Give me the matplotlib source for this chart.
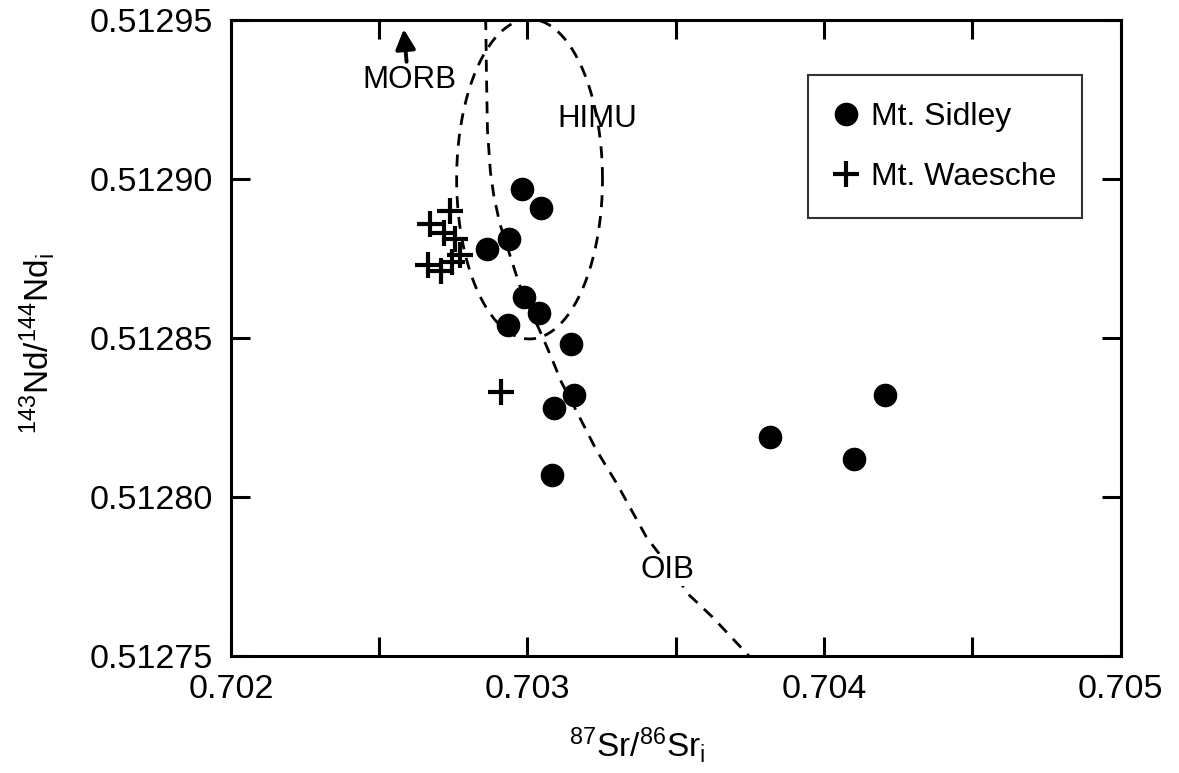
import numpy as np
from matplotlib import pyplot as plt

plt.rcParams["font.family"] = ["Liberation Sans", "DejaVu Sans"]
plt.rcParams["mathtext.fontset"] = "custom"
plt.rcParams["mathtext.rm"] = "Liberation Sans"
plt.rcParams["mathtext.it"] = "Liberation Sans"

# Mt. Sidley samples
sidley_sr = [0.702980, 0.703044, 0.702939, 0.702862, 0.702987, 0.703040, 0.702933,
             0.703148, 0.703158, 0.703088, 0.703081, 0.703818, 0.704101, 0.704205]
sidley_nd = [0.512897, 0.512891, 0.512881, 0.512878, 0.512863, 0.512858, 0.512854,
             0.512848, 0.512832, 0.512828, 0.512807, 0.512819, 0.512812, 0.512832]

# Mt. Waesche samples
waesche_sr = [0.702670, 0.702737, 0.702717, 0.702754, 0.702663, 0.702707, 0.702744,
              0.702771, 0.702912]
waesche_nd = [0.512886, 0.512890, 0.512883, 0.512881, 0.512873, 0.512871, 0.512874,
              0.512876, 0.512833]

# OIB field boundary
oib_sr = [0.702859, 0.702862, 0.702865, 0.702875, 0.702886, 0.702906, 0.702946,
          0.702973, 0.703013, 0.703051, 0.703084, 0.703114, 0.703175, 0.703232,
          0.703300, 0.703401, 0.703478, 0.703545, 0.703623, 0.703747]
oib_nd = [0.5129506, 0.5129311, 0.5129154, 0.5129022, 0.512895, 0.5128862, 0.5128745,
          0.5128667, 0.5128582, 0.5128503, 0.5128431, 0.5128362, 0.5128252, 0.5128148,
          0.5128044, 0.5127874, 0.5127780, 0.5127692, 0.5127623, 0.51275]

# HIMU field (ellipse)
himu_sr0, himu_nd0 = 0.703007, 0.512900
himu_dsr, himu_dnd = 0.000246, 0.0000503

xticks = [0.702, 0.703, 0.704, 0.705]
xlabels = ["0.702", "0.703", "0.704", "0.705"]
xminor = [0.7025, 0.7035, 0.7045]
yticks = [0.51275, 0.51280, 0.51285, 0.51290, 0.51295]
ylabels = ["0.51275", "0.51280", "0.51285", "0.51290", "0.51295"]

fs = 23
dash = (0, (4.3, 3.2))

fig = plt.figure(figsize=(11.79, 7.73), dpi=100)
ax = fig.add_axes([0.1959, 0.1514, 0.7545, 0.8227])

t = np.linspace(0, 2 * np.pi, 200)
ax.plot(himu_sr0 + himu_dsr * np.cos(t), himu_nd0 + himu_dnd * np.sin(t),
        color="black", lw=2.0, linestyle=dash)
ax.plot(oib_sr, oib_nd, color="black", lw=2.0, linestyle=dash)

ax.plot(sidley_sr, sidley_nd, "o", color="black", ms=16, label="Mt. Sidley", zorder=5)
ax.plot(waesche_sr, waesche_nd, "+", color="black", ms=19, mew=3, label="Mt. Waesche", zorder=5)

ax.text(0.702603, 0.512931, "MORB", fontsize=fs - 0.5, ha="center", va="center")
ax.annotate("", xy=(0.702582, 0.512948), xytext=(0.702593, 0.512936),
            arrowprops=dict(arrowstyle="-|>", color="black", lw=2.8, mutation_scale=30))
ax.text(0.703236, 0.512919, "HIMU", fontsize=fs - 0.5, ha="center", va="center")
ax.text(0.703471, 0.512777, "OIB", fontsize=fs - 0.5, ha="center", va="center",
        bbox=dict(facecolor="white", edgecolor="none", pad=1), zorder=4)

ax.set_xlim(0.702, 0.705)
ax.set_ylim(0.51275, 0.51295)
ax.set_xticks(xticks)
ax.set_xticklabels(xlabels)
ax.set_xticks(xminor, minor=True)
ax.set_yticks(yticks)
ax.set_yticklabels(ylabels)
ax.tick_params(which="both", direction="in", top=True, right=True, length=14, width=2.2,
               labelsize=fs + 1.5)
ax.tick_params(axis="x", pad=13)
ax.tick_params(axis="y", pad=13)
for s in ax.spines.values():
    s.set_linewidth(2.2)

ax.set_xlabel(r"$^{87}$Sr/$^{86}$Sr$_{\mathrm{i}}$", fontsize=fs + 1)
ax.xaxis.set_label_coords(0.457, -0.108)
ax.set_ylabel(r"$^{143}$Nd/$^{144}$Nd$_{\mathrm{i}}$", fontsize=fs + 1)
ax.yaxis.set_label_coords(-0.196, 0.492)

leg = ax.legend(loc="upper left", bbox_to_anchor=(0.649, 0.913), borderaxespad=0,
                fontsize=fs, frameon=True, fancybox=False, edgecolor="black",
                handlelength=0.7, handletextpad=0.42, borderpad=0.83, labelspacing=0.94,
                numpoints=1)
leg.get_frame().set_linewidth(1.5)

fig.savefig("out.png", dpi=100)
